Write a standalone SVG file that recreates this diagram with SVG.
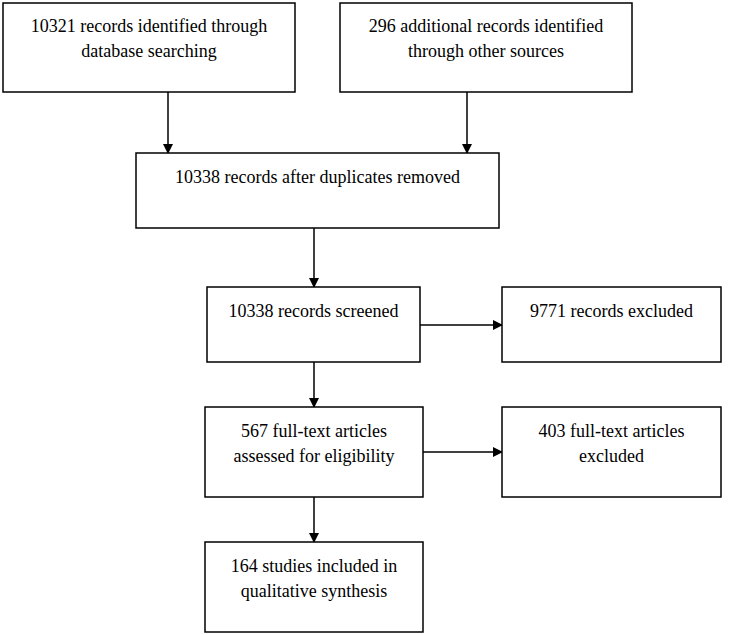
<svg xmlns="http://www.w3.org/2000/svg" width="740" height="635" viewBox="0 0 740 635">
<style>
.box{fill:#fff;stroke:#000;stroke-width:1.5}
.t{font-family:"Liberation Serif","Times New Roman",serif;font-size:18px;fill:#000;text-anchor:middle}
.c{stroke:#000;stroke-width:1.5;fill:none;marker-end:url(#ah)}
</style>
<defs>
<marker id="ah" markerWidth="10" markerHeight="10" refX="9" refY="5" orient="auto" markerUnits="userSpaceOnUse">
<path d="M0,0 L10,5 L0,10 Z" fill="#000"/>
</marker>
</defs>
<rect width="740" height="635" fill="#fff"/>
<g id="connectors">
<line class="c" x1="168" y1="92" x2="168" y2="153"/>
<line class="c" x1="467" y1="92" x2="467" y2="153"/>
<line class="c" x1="314" y1="228" x2="314" y2="287"/>
<line class="c" x1="420" y1="325" x2="502" y2="325"/>
<line class="c" x1="314" y1="362" x2="314" y2="407"/>
<line class="c" x1="423" y1="452" x2="502" y2="452"/>
<line class="c" x1="314" y1="497" x2="314" y2="542"/>
</g>
<g id="n1"><rect class="box" x="3" y="3" width="292" height="89"/><text class="t" x="149" y="32">10321 records identified through</text><text class="t" x="149" y="57">database searching</text></g>
<g id="n2"><rect class="box" x="340" y="3" width="292" height="89"/><text class="t" x="486" y="32">296 additional records identified</text><text class="t" x="486" y="57">through other sources</text></g>
<g id="n3"><rect class="box" x="136" y="153" width="363" height="75"/><text class="t" x="317.5" y="183">10338 records after duplicates removed</text></g>
<g id="n4"><rect class="box" x="207" y="287" width="213" height="75"/><text class="t" x="313.5" y="317">10338 records screened</text></g>
<g id="n5"><rect class="box" x="502" y="287" width="219" height="75"/><text class="t" x="611.5" y="317">9771 records excluded</text></g>
<g id="n6"><rect class="box" x="205" y="407" width="218" height="90"/><text class="t" x="314" y="437">567 full-text articles</text><text class="t" x="314" y="462">assessed for eligibility</text></g>
<g id="n7"><rect class="box" x="502" y="407" width="219" height="90"/><text class="t" x="611.5" y="437">403 full-text articles</text><text class="t" x="611.5" y="462">excluded</text></g>
<g id="n8"><rect class="box" x="205" y="542" width="218" height="90"/><text class="t" x="314" y="572">164 studies included in</text><text class="t" x="314" y="597">qualitative synthesis</text></g>
</svg>
